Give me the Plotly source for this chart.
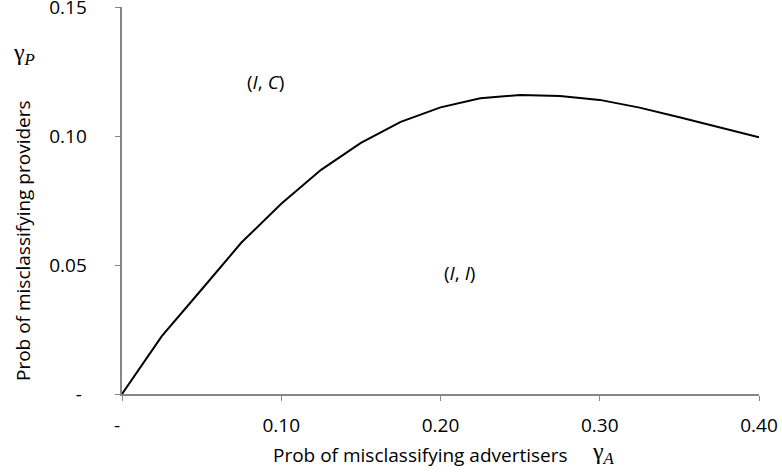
import plotly.graph_objects as go

gamma_a = [0.0, 0.025, 0.05, 0.075, 0.10, 0.125, 0.15, 0.175, 0.20, 0.225, 0.25, 0.275, 0.30, 0.325, 0.35, 0.375, 0.40]
gamma_p = [0.0, 0.0224, 0.0405, 0.0587, 0.0737, 0.0869, 0.0973, 0.1055, 0.1111, 0.1146, 0.1159, 0.1155, 0.1140, 0.1110, 0.1073, 0.1035, 0.0995]

NB = "\u00a0"
x_tickvals = [0.0, 0.10, 0.20, 0.30, 0.40]
x_ticktext = ["-" + NB * 2, "0.10", "0.20", "0.30", "0.40"]
y_tickvals = [0.0, 0.05, 0.10, 0.15]
y_ticktext = ["-" + NB * 6, "0.05" + NB * 5, "0.10" + NB * 5, "0.15" + NB * 5]

font_main = "Open Sans, Liberation Sans, sans-serif"
font_serif = "Liberation Serif, DejaVu Serif, serif"

W, H = 782, 473
L, R, T, B = 122, 23, 7, 79

fig = go.Figure()
fig.add_trace(go.Scatter(x=gamma_a, y=gamma_p, mode="lines",
                         line=dict(color="black", width=2), showlegend=False))

axis_common = dict(showline=True, linecolor="#868686", linewidth=1.5, ticks="outside",
                   ticklen=5, tickcolor="#868686", showgrid=False, zeroline=False,
                   automargin=False, ticklabeloverflow="allow",
                   tickfont=dict(family=font_main, size=19, color="black"))

fig.update_xaxes(range=[0, 0.4], tickmode="array", tickvals=x_tickvals, ticktext=x_ticktext,
                 ticklabelstandoff=8, **axis_common)
fig.update_yaxes(range=[0, 0.15], tickmode="array", tickvals=y_tickvals, ticktext=y_ticktext,
                 **axis_common)

pw, ph = W - L - R, H - T - B


def px(x, y):
    return (x - L) / pw, (H - B - y) / ph


anns = [
    dict(text="(<i>I</i>, <i>C</i>)", x=0.0898, y=0.121, xref="x", yref="y", showarrow=False,
         font=dict(family=font_main, size=19, color="black")),
    dict(text="(<i>I</i>, <i>I</i>)", x=0.2122, y=0.0469, xref="x", yref="y", showarrow=False,
         font=dict(family=font_main, size=19, color="black")),
]
for text, x, y, ang, fam, size in [
    ("Prob of misclassifying advertisers", 420, 455, 0, font_main, 19),
    ("Prob of misclassifying providers", 23, 241, -90, font_main, 19),
    ("γ<sub><i>A</i></sub>", 603, 453, 0, font_serif, 24),
    ("γ<sub><i>P</i></sub>", 24, 54, 0, font_serif, 24),
]:
    xx, yy = px(x, y)
    anns.append(dict(text=text, x=xx, y=yy, xref="paper", yref="paper", textangle=ang,
                     xanchor="center", yanchor="middle",
                     showarrow=False, font=dict(family=fam, size=size, color="black")))

fig.update_layout(
    width=W, height=H,
    margin=dict(l=L, r=R, t=T, b=B, autoexpand=False),
    plot_bgcolor="white", paper_bgcolor="white",
    annotations=anns,
)

fig.write_html("out.html", config={"displayModeBar": False},
               post_script="document.body.style.margin='0';")
